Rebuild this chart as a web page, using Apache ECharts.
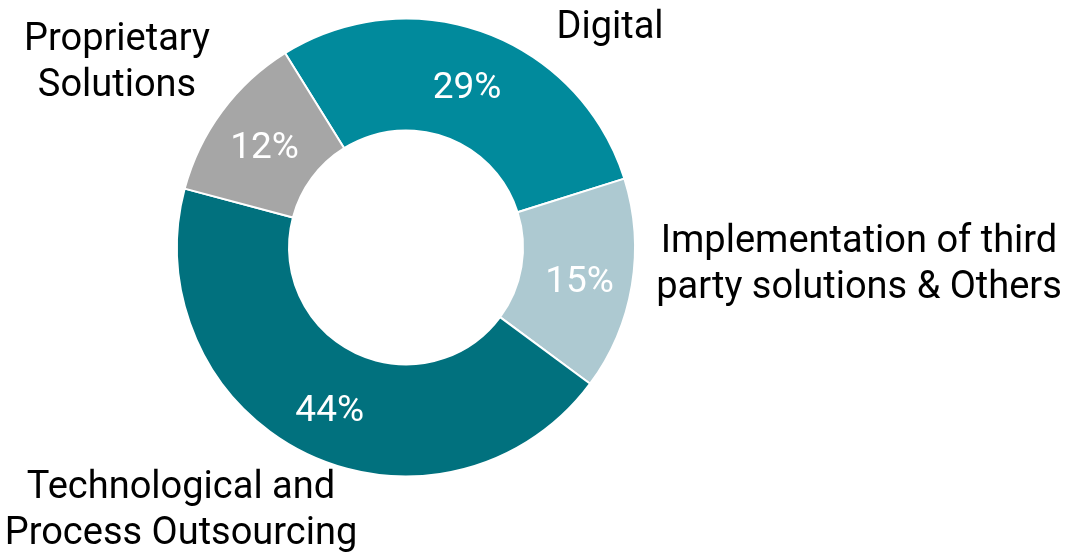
<!DOCTYPE html>
<html>
<head>
<meta charset="utf-8">
<script src="https://cdn.jsdelivr.net/npm/echarts@6/dist/echarts.min.js"></script>
<style>
    html, body { margin: 0; padding: 0; background: #fff; }
    #chart { width: 1071px; height: 557px; }
</style>
</head>
<body>
<div id="chart"></div>
<script>
var segNames = ["Digital", "Implementation of third\nparty solutions & Others", "Technological and\nProcess Outsourcing", "Proprietary\nSolutions"];
var segValues = [29, 15, 44, 12];
var segColors = ["#018a9c", "#adc9d1", "#01717e", "#a6a6a6"];

// where the category names sit (px), same order as segNames
var namePos = [[610, 28], [859, 265], [181, 511], [117, 63]];

var fontName = "Roboto";

function buildData(clear) {
    var list = [];
    for (var i = 0; i < segNames.length; i++) {
        list.push({ name: segNames[i], value: segValues[i], itemStyle: { color: clear ? "rgba(0,0,0,0)" : segColors[i] } });
    }
    return list;
}

var myChart = echarts.init(document.getElementById("chart"));
var option = {
    animation: false,
    series: [{
        name: "share",
        type: "pie",
        center: [406, 247.5],
        radius: [117, 229],
        startAngle: 121.9,
        clockwise: true,
        itemStyle: {
            borderColor: "#ffffff",
            borderWidth: 2
        },
        label: {
            show: true,
            position: "inside",
            formatter: function (p) { return p.value + "%"; },
            color: "#ffffff",
            fontFamily: fontName,
            fontSize: 37,
            offset: [0, 6]
        },
        labelLine: { show: false },
        data: buildData(false)
    }, {
        name: "names",
        type: "pie",
        center: [406, 247.5],
        radius: [117, 229],
        startAngle: 121.9,
        silent: true,
        label: {
            show: true,
            position: "outside",
            formatter: "{b}",
            color: "#000000",
            fontFamily: fontName,
            fontSize: 38,
            lineHeight: 46,
            align: "center",
            overflow: "none"
        },
        labelLine: { show: false },
        labelLayout: function (params) {
            var p = namePos[params.dataIndex];
            return { x: p[0], y: p[1], align: "center", verticalAlign: "middle" };
        },
        data: buildData(true)
    }]
};
myChart.setOption(option, true);
</script>
</body>
</html>
